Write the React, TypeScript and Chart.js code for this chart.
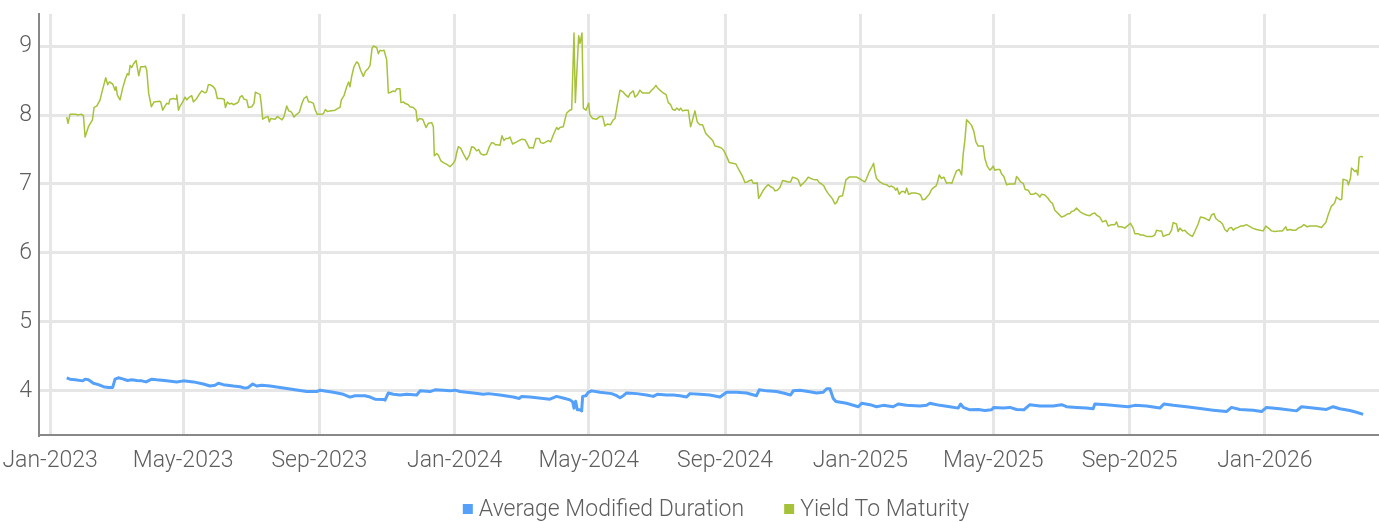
import { useEffect, useRef } from "react";
import { Chart, registerables } from "chart.js";

Chart.register(...registerables);

// x positions are days since 2023-01-01
const xTickDays = [0, 120, 243, 365, 486, 609, 731, 851, 974, 1096];
const xTickLabels = ["Jan-2023", "May-2023", "Sep-2023", "Jan-2024", "May-2024", "Sep-2024", "Jan-2025", "May-2025", "Sep-2025", "Jan-2026"];
const yTickValues = [4, 5, 6, 7, 8, 9];
const seriesNames = ["Average Modified Duration", "Yield To Maturity"];

const ytmDays = [
  15, 16.2, 18, 21, 23.5, 24.7, 28.6, 30.1, 31.6, 34.6, 38.2, 39.7, 42.1, 45.1, 46.9, 50.2, 52, 53.5, 56.5, 58.6, 59.5, 60.7, 63.1, 65.5, 68, 69.8, 71, 72.2, 73.7, 75.2, 77.6, 80, 81.8, 84.8, 86, 87.2, 89, 91.4, 93.8, 98.6, 99.8, 101.6, 103.7, 105.2, 107, 108.2, 111.2, 113.7, 114.3, 115.8, 117.3, 119.7, 121.8, 123.3, 125.7, 127.8, 129.3, 132.3, 134.1, 136.8, 139.8, 141.3, 142.8, 144.3, 147.3, 149.1, 150.9, 154.9, 157, 158.2, 160, 161.8, 163.9, 165.4, 168.4, 169.9, 171.4, 173.2, 175, 177.4, 178.9, 181.9, 184, 185.2, 187.9, 189.4, 190.6, 191.8, 194.8, 196.6, 197.8, 199.1, 203, 205.1, 207.5, 209.3, 211.1, 213.5, 215.3, 217.1, 218.3, 220.1, 222.5, 224.9, 227.3, 229.1, 231.5, 233.3, 235.1, 237.5, 239.3, 241.1, 245.1, 246.6, 248.4, 250.2, 252.6, 257.1, 260.1, 261.6, 262.8, 265.2, 267.6, 269.4, 270.6, 272.1, 274.2, 276.6, 278.1, 280.2, 282.6, 284.4, 287.2, 288.7, 290.5, 291.7, 294.7, 296.2, 297.7,
  299.2, 301.3, 303.7, 305.2, 307.3, 309.7, 311.2, 312.7, 315.7, 316.6, 318.7, 320.2, 323.2, 324.7, 327.7, 330.1, 331.3, 333.2, 336.2, 339.2, 341.3, 344.3, 345.8, 346.7, 348.8, 350.3, 352.4, 354.8, 358.4, 360.8, 363.8, 365.6, 366.8, 368.3, 370.4, 372.8, 375.9, 378.3, 380.4, 382.5, 384.9, 386.7, 388.5, 390.9, 393.9, 396.3, 398.4, 400.5, 401.7, 403.5, 405.9, 407.7, 409.5, 411.3, 413.4, 414.9, 417.3, 421, 425.5, 428.5, 430, 432.4, 434.5, 436, 438.4, 441.4, 442.6, 445, 447.4, 449.5, 451.6, 454, 457, 458.5, 460, 463, 464.5, 466.1, 469.1, 470.6, 472.7, 473.9, 476.9, 478.1, 479.9, 481.1, 483.5, 485.9, 487.1, 489.5, 493.1, 496.1, 498.5, 500.6, 502.7, 505.7, 508.1, 509.7, 511.8, 514.2, 516.6, 518.7, 521.7, 523.2, 526.2, 527.7, 529.8, 532.2, 534.6, 538.2, 540.6, 542.7, 544.8, 546.6, 547.8, 550.2, 553.2, 555.7, 557.8, 559.9, 561.7, 563.8, 565.3, 567.7, 568.9, 570.7, 572.8, 575.8, 577.9, 579.7, 581.8, 583.9, 586.3, 588.7, 591.7, 594.7,
  597.8, 599.9, 602.9, 605.9, 608, 610.4, 612.8, 615.8, 618.8, 620, 622.4, 624.8, 626.9, 629, 631.4, 632.9, 634.4, 636.8, 638, 639.3, 641.1, 643.5, 645.9, 648, 650.1, 652.5, 654, 656.1, 658.5, 660.9, 663.9, 666, 668.1, 669.9, 673.5, 675, 677.1, 679.5, 681.9, 684, 686.2, 688, 690.1, 692.2, 694, 696.1, 698.2, 700, 702.1, 704.2, 706, 708.1, 709.6, 712, 715, 716.2, 718, 721, 724.6, 727.7, 730, 733, 735.2, 736.7, 739.1, 741.5, 743, 744.5, 745.7, 748.7, 751.7, 754.7, 757.1, 759.2, 761.3, 763.1, 764.3, 766.1, 768.2, 770.3, 771.5, 772.8, 774.6, 777.3, 780.3, 783.3, 785.4, 787.2, 789.3, 791.4, 793.2, 795.3, 797.4, 799.2, 800.4, 802.2, 804.3, 806.4, 808.8, 811.2, 813.6, 816.3, 817.8, 820.3, 822.4, 823.9, 825.4, 826.9, 829.3, 831.4, 833.5, 835.3, 837.4, 839.5, 841.9, 843.4, 845.5, 847.9, 849.7, 850.9, 852.4, 854.5, 856.9, 858.4, 860.5, 863, 865.4, 867.5, 870.5, 872, 873.5, 875.6, 878, 879.8, 882.5, 884.6, 887, 889.4, 891.5, 893,
  894.5, 897.5, 900.5, 902.6, 904.4, 906.5, 909.6, 912.6, 915.6, 918.6, 920.1, 921.6, 923.7, 926.1, 929.1, 932.1, 935.1, 938.1, 940.5, 942.6, 944.1, 947.1, 949.5, 952.6, 954.7, 957.7, 960.7, 962.2, 963.7, 966.7, 969.7, 971.8, 974.8, 977.2, 978.7, 981.7, 983.8, 986.2, 989.2, 992.2, 994.6, 996.8, 998.3, 1000.7, 1002.8, 1004.3, 1007.3, 1009.7, 1011.8, 1013.3, 1016.3, 1017.8, 1019.3, 1021.7, 1023.8, 1025.9, 1028.3, 1030.7, 1032.8, 1035.8, 1037.9, 1040.9, 1043.4, 1045.8, 1047.9, 1050, 1051.8, 1053.9, 1056, 1057.8, 1059.9, 1062, 1063.8, 1065.9, 1067.4, 1069.8, 1071.9, 1074, 1076.4, 1079.4, 1081.8, 1084.9, 1088.5, 1091.5, 1094.5, 1096.9, 1099.3, 1102, 1105, 1109.5, 1111.9, 1114.9, 1116.1, 1118.5, 1121.5, 1123.9, 1126, 1129, 1131.2, 1134.2, 1136.6, 1139.6, 1142.6, 1145, 1147.1, 1149.2, 1151, 1153.1, 1156.1, 1157.6, 1159.1, 1160.6, 1162.1, 1164.2, 1165.4, 1166.6, 1168.4, 1170.2, 1171.4, 1173.2, 1174.2, 1175.7, 1177.2, 1178.7, 1179.9, 1181.1, 1182.9, 1184.7,
];

const ytmValues = [
  7.97, 7.88, 8.01, 8.01, 8.01, 8.0, 8.01, 7.99, 7.68, 7.83, 7.93, 8.11, 8.13, 8.22, 8.34, 8.54, 8.44, 8.48, 8.45, 8.36, 8.41, 8.29, 8.22, 8.39, 8.53, 8.6, 8.58, 8.72, 8.69, 8.74, 8.79, 8.57, 8.7, 8.7, 8.71, 8.65, 8.31, 8.12, 8.19, 8.2, 8.19, 8.07, 8.13, 8.17, 8.16, 8.23, 8.24, 8.23, 8.29, 8.07, 8.13, 8.19, 8.26, 8.22, 8.26, 8.28, 8.19, 8.24, 8.29, 8.35, 8.32, 8.34, 8.44, 8.44, 8.41, 8.37, 8.24, 8.24, 8.23, 8.11, 8.19, 8.16, 8.17, 8.15, 8.17, 8.19, 8.26, 8.28, 8.23, 8.22, 8.11, 8.12, 8.17, 8.33, 8.31, 8.3, 8.15, 7.94, 7.97, 7.98, 7.9, 7.95, 7.94, 7.98, 7.95, 7.93, 7.98, 8.13, 8.06, 8.05, 8.03, 7.97, 8.01, 8.04, 8.17, 8.24, 8.27, 8.19, 8.19, 8.17, 8.07, 8.01, 8.01, 8.02, 8.08, 8.05, 8.06, 8.07, 8.1, 8.11, 8.22, 8.28, 8.41, 8.48, 8.41, 8.56, 8.7, 8.77, 8.75, 8.65, 8.56, 8.63, 8.68, 8.72, 8.97, 9.0, 8.98, 8.89, 8.94,
  8.93, 8.94, 8.8, 8.32, 8.33, 8.35, 8.34, 8.38, 8.38, 8.18, 8.19, 8.17, 8.15, 8.12, 8.11, 8.07, 7.91, 7.95, 7.94, 7.82, 7.88, 7.89, 7.83, 7.41, 7.44, 7.42, 7.34, 7.31, 7.28, 7.25, 7.3, 7.35, 7.45, 7.54, 7.52, 7.44, 7.35, 7.42, 7.54, 7.53, 7.48, 7.5, 7.44, 7.42, 7.43, 7.54, 7.6, 7.59, 7.57, 7.57, 7.56, 7.7, 7.63, 7.66, 7.66, 7.68, 7.58, 7.61, 7.65, 7.64, 7.6, 7.52, 7.53, 7.52, 7.66, 7.66, 7.6, 7.59, 7.61, 7.63, 7.61, 7.71, 7.82, 7.79, 7.82, 7.83, 7.93, 8.03, 8.07, 8.08, 9.19, 8.18, 9.15, 9.04, 9.19, 8.1, 8.07, 8.17, 8.0, 7.95, 7.94, 7.98, 7.98, 7.84, 7.87, 7.86, 7.93, 7.95, 8.15, 8.36, 8.34, 8.3, 8.26, 8.31, 8.35, 8.26, 8.29, 8.36, 8.32, 8.32, 8.32, 8.36, 8.39, 8.43, 8.4, 8.36, 8.32, 8.3, 8.18, 8.15, 8.08, 8.07, 8.1, 8.07, 8.1, 8.06, 8.07, 8.07, 7.83, 7.93, 8.06, 7.9, 7.86, 7.86, 7.73, 7.68,
  7.63, 7.55, 7.54, 7.52, 7.48, 7.4, 7.31, 7.3, 7.29, 7.25, 7.18, 7.11, 7.02, 7.03, 7.05, 7.06, 7.01, 7.01, 7.02, 6.79, 6.84, 6.91, 6.96, 6.99, 6.96, 6.94, 6.9, 6.91, 6.95, 7.05, 7.04, 7.03, 7.03, 7.1, 7.08, 7.06, 6.97, 7.01, 7.05, 7.1, 7.08, 7.07, 7.06, 7.06, 7.02, 7.0, 6.97, 6.91, 6.86, 6.82, 6.78, 6.71, 6.73, 6.82, 6.83, 6.92, 7.06, 7.1, 7.1, 7.1, 7.08, 7.05, 7.03, 7.08, 7.18, 7.25, 7.3, 7.15, 7.08, 7.03, 7.0, 6.99, 6.96, 6.97, 6.95, 6.91, 6.94, 6.85, 6.89, 6.89, 6.87, 6.94, 6.85, 6.87, 6.87, 6.86, 6.84, 6.77, 6.78, 6.82, 6.85, 6.92, 6.95, 6.97, 7.01, 7.13, 7.08, 7.1, 7.01, 7.02, 7.01, 7.13, 7.19, 7.21, 7.13, 7.44, 7.64, 7.93, 7.89, 7.85, 7.76, 7.61, 7.55, 7.55, 7.55, 7.37, 7.26, 7.2, 7.23, 7.26, 7.2, 7.21, 7.21, 7.15, 7.11, 6.99, 7.0, 7.0, 7.0, 7.11, 7.08, 7.03, 7.01, 6.92, 6.91, 6.85, 6.85, 6.87, 6.84, 6.81,
  6.85, 6.84, 6.79, 6.74, 6.72, 6.62, 6.57, 6.52, 6.54, 6.57, 6.57, 6.6, 6.61, 6.65, 6.6, 6.57, 6.55, 6.54, 6.57, 6.58, 6.55, 6.52, 6.45, 6.47, 6.39, 6.41, 6.41, 6.45, 6.38, 6.38, 6.36, 6.39, 6.43, 6.36, 6.28, 6.28, 6.26, 6.26, 6.24, 6.24, 6.24, 6.26, 6.33, 6.32, 6.32, 6.24, 6.26, 6.27, 6.33, 6.44, 6.42, 6.31, 6.36, 6.32, 6.33, 6.29, 6.26, 6.24, 6.31, 6.42, 6.52, 6.51, 6.49, 6.47, 6.55, 6.57, 6.5, 6.47, 6.45, 6.42, 6.34, 6.31, 6.36, 6.37, 6.33, 6.36, 6.37, 6.39, 6.39, 6.41, 6.39, 6.36, 6.34, 6.33, 6.32, 6.39, 6.36, 6.32, 6.31, 6.32, 6.32, 6.38, 6.33, 6.34, 6.33, 6.33, 6.36, 6.38, 6.41, 6.38, 6.39, 6.39, 6.39, 6.38, 6.37, 6.41, 6.44, 6.55, 6.68, 6.7, 6.73, 6.81, 6.79, 6.77, 6.78, 7.07, 7.06, 7.05, 6.99, 7.08, 7.23, 7.21, 7.18, 7.2, 7.13, 7.39, 7.4, 7.39,
];

const durationDays = [
  15, 18, 22.6, 29.5, 31.6, 34.6, 39.1, 43.6, 48.1, 52.6, 56.5, 58.6, 61.6, 66.2, 69.8, 73.7, 78.2, 82.7, 86.6, 91.7, 96.2, 105.2, 114.3, 120.3, 129.3, 138.3, 144.3, 148.8, 151.8, 156.4, 165.4, 171.4, 175.9, 178.9, 182.8, 186.4, 190.9, 198.5, 207.5, 219.5, 231.5, 240.5, 243.6, 255.6, 264.6, 270.6, 275.1, 284.1, 288.7, 293.2, 300.7, 302.2, 305.2, 309.7, 315.7, 321.7, 330.8, 333.8, 342.8, 347.3, 354.8, 360.8, 365.3, 369.8, 381.9, 390.9, 395.4,
  405.9, 417.9, 423.4, 425.5, 433, 445, 451, 457, 464.5, 469.1, 471.5, 472.7, 474.2, 475.7, 478.1, 479.6, 480.5, 483.5, 485.6, 488.6, 496.1, 506.6, 511.2, 514.2, 517.2, 520.2, 529.2, 538.2, 544.2, 547.8, 556.3, 562.3, 568.3, 574.3, 577.3, 586.3, 595.3, 604.4, 610.4, 619.4, 628.4, 637.4, 639.8, 646.5, 655.5, 661.5, 668.1, 670.5, 676.5, 684, 691.6, 697.6, 700.6, 703.6, 706.6, 709, 718.6, 729.2, 732.2, 739.7, 745.7, 751.7, 760.7, 765.2, 772.8, 784.8, 790.8, 793.8,
  796.8, 802.8, 811.8, 819.4, 821.5, 823.9, 829.9, 837.4, 843.4, 849.4, 851.5, 859.9, 866, 872, 878.6, 884, 893, 905, 912.6, 917.1, 926.1, 935.1, 941.1, 942.6, 953.2, 965.2, 972.7, 978.7, 989.2, 1001.3, 1004.9, 1013.3, 1025.3, 1034.3, 1049.4, 1061.4, 1065.9, 1073.4, 1085.5, 1093, 1097.5, 1109.5, 1124.6, 1129.1, 1139.6, 1151.6, 1157.6, 1163.6, 1172.7, 1178.7, 1184.7,
];

const durationValues = [
  4.19, 4.17, 4.16, 4.145, 4.17, 4.16, 4.11, 4.09, 4.06, 4.05, 4.05, 4.17, 4.19, 4.17, 4.15, 4.16, 4.15, 4.145, 4.13, 4.17, 4.16, 4.145, 4.13, 4.145, 4.13, 4.1, 4.07, 4.08, 4.11, 4.09, 4.07, 4.06, 4.04, 4.05, 4.1, 4.07, 4.08, 4.07, 4.05, 4.02, 3.99, 3.99, 4.01, 3.98, 3.95, 3.91, 3.93, 3.93, 3.91, 3.88, 3.875, 3.865, 3.97, 3.95, 3.94, 3.95, 3.94, 4.0, 3.99, 4.015, 4.01, 4.0, 4.01, 3.99, 3.97, 3.95, 3.96,
  3.94, 3.91, 3.89, 3.92, 3.91, 3.89, 3.88, 3.92, 3.89, 3.87, 3.84, 3.75, 3.85, 3.725, 3.725, 3.71, 3.92, 3.93, 3.98, 4.0, 3.98, 3.96, 3.93, 3.9, 3.93, 3.97, 3.96, 3.94, 3.92, 3.95, 3.94, 3.94, 3.93, 3.91, 3.96, 3.95, 3.94, 3.91, 3.98, 3.98, 3.97, 3.93, 4.015, 4.0, 3.99, 3.97, 3.94, 4.0, 4.01, 3.99, 3.97, 3.98, 4.03, 4.03, 3.89, 3.845, 3.82, 3.77, 3.82, 3.8, 3.77, 3.79, 3.77, 3.81, 3.79, 3.78, 3.79, 3.82,
  3.81, 3.79, 3.77, 3.75, 3.81, 3.76, 3.725, 3.73, 3.715, 3.725, 3.76, 3.75, 3.76, 3.73, 3.725, 3.8, 3.78, 3.78, 3.8, 3.77, 3.76, 3.75, 3.74, 3.81, 3.8, 3.78, 3.77, 3.79, 3.78, 3.75, 3.81, 3.79, 3.77, 3.75, 3.72, 3.7, 3.76, 3.73, 3.72, 3.7, 3.76, 3.74, 3.71, 3.77, 3.75, 3.73, 3.77, 3.74, 3.715, 3.69, 3.66,
];

const BLUE = "#55a0f9";
const GREEN = "#a6c23b";
const TEXT = "#5e5e5e";
const FONT_FAMILY = "Roboto";
const FONT_SIZE = 23;

// Legend drawn by a small Chart.js plugin (box + label per dataset, centred under the plot)
const legendPlugin = {
  id: "bottomLegend",
  afterDraw(chart: any) {
    const ctx = chart.ctx as CanvasRenderingContext2D;
    const { left, right } = chart.chartArea;
    const boxSize = 10;
    const boxGap = 6;
    const itemGap = 40;
    const midY = 510;
    ctx.save();
    ctx.font = `300 ${FONT_SIZE}px ${FONT_FAMILY}`;
    ctx.textBaseline = "middle";
    ctx.textAlign = "left";
    const items = chart.data.datasets.map((ds: any) => ({
      text: ds.label as string,
      color: ds.borderColor as string,
      w: ctx.measureText(ds.label).width,
    }));
    const total =
      items.reduce((s: number, it: any) => s + boxSize + boxGap + it.w, 0) + itemGap * (items.length - 1);
    let x = (left + right) / 2 + 7 - total / 2;
    for (const it of items) {
      ctx.fillStyle = it.color;
      ctx.fillRect(x, midY - 6, boxSize, boxSize);
      ctx.fillStyle = TEXT;
      ctx.fillText(it.text, x + boxSize + boxGap, midY);
      x += boxSize + boxGap + it.w + itemGap;
    }
    ctx.restore();
  },
};

export default function App() {
  const canvasRef = useRef<HTMLCanvasElement | null>(null);

  useEffect(() => {
    const canvas = canvasRef.current;
    if (!canvas) return;
    const font = { family: FONT_FAMILY, size: FONT_SIZE, weight: "300" as const };
    const chart = new Chart(canvas, {
      type: "line",
      data: {
        datasets: [
          {
            label: seriesNames[0],
            data: durationDays.map((d, i) => ({ x: d, y: durationValues[i] })),
            borderColor: BLUE,
            backgroundColor: BLUE,
            borderWidth: 3,
            pointRadius: 0,
            tension: 0,
            borderJoinStyle: "round",
          },
          {
            label: seriesNames[1],
            data: ytmDays.map((d, i) => ({ x: d, y: ytmValues[i] })),
            borderColor: GREEN,
            backgroundColor: GREEN,
            borderWidth: 1.5,
            pointRadius: 0,
            tension: 0,
            borderJoinStyle: "round",
          },
        ],
      },
      options: {
        animation: false,
        responsive: false,
        maintainAspectRatio: false,
        layout: { padding: { top: 14, left: 0, right: 0, bottom: 42 }, autoPadding: false },
        plugins: {
          legend: { display: false },
          tooltip: { enabled: false },
        },
        scales: {
          x: {
            type: "linear",
            min: -10,
            max: 1199,
            afterBuildTicks: (scale: any) => {
              scale.ticks = xTickDays.map((v) => ({ value: v }));
            },
            afterFit: (scale: any) => {
              scale.height = 45;
              scale.paddingLeft = 0;
              scale.paddingRight = 0;
            },
            ticks: {
              autoSkip: false,
              maxRotation: 0,
              padding: 12,
              color: TEXT,
              font,
              callback: (_v: any, i: number) => xTickLabels[i],
            },
            grid: { color: "#e6e6e6", lineWidth: 3, drawTicks: false },
            border: { display: true, color: "#888888", width: 2 },
          },
          y: {
            type: "linear",
            min: 3.36,
            max: 9.465,
            afterBuildTicks: (scale: any) => {
              scale.ticks = yTickValues.map((v) => ({ value: v }));
            },
            afterFit: (scale: any) => {
              scale.width = 39;
              scale.paddingTop = 0;
              scale.paddingBottom = 0;
            },
            ticks: { padding: 7, color: TEXT, font, callback: (v: any) => String(v) },
            grid: { color: "#e6e6e6", lineWidth: 3, drawTicks: false },
            border: { display: true, color: "#888888", width: 2 },
          },
        },
      },
      plugins: [legendPlugin],
    });
    return () => chart.destroy();
  }, []);

  return (
    <div style={{ position: "fixed", left: 0, top: 0, width: 1379, height: 522, background: "#fff" }}>
      <canvas ref={canvasRef} width={1379} height={522} style={{ display: "block", width: 1379, height: 522 }} />
    </div>
  );
}
